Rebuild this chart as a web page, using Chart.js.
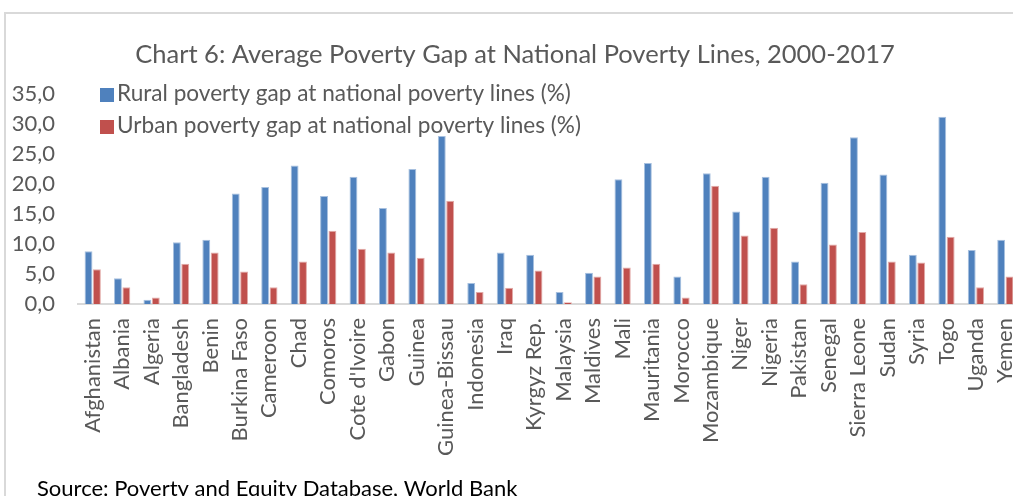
<!DOCTYPE html>
<html>
<head>
<meta charset="utf-8">
<script src="https://cdn.jsdelivr.net/npm/chart.js@4.4.1/dist/chart.umd.min.js"></script>
<style>
  html, body { margin: 0; padding: 0; background: #fff; overflow: hidden; }
  #wrap { position: relative; width: 1046px; height: 496px; }
</style>
</head>
<body>
<div id="wrap"><canvas id="chart" width="1046" height="496"></canvas></div>
<script>
// Countries on the category axis
const countries = ['Afghanistan', 'Albania', 'Algeria', 'Bangladesh', 'Benin', 'Burkina Faso',
  'Cameroon', 'Chad', 'Comoros', "Cote d'Ivoire", 'Gabon', 'Guinea', 'Guinea-Bissau', 'Indonesia',
  'Iraq', 'Kyrgyz Rep.', 'Malaysia', 'Maldives', 'Mali', 'Mauritania', 'Morocco', 'Mozambique',
  'Niger', 'Nigeria', 'Pakistan', 'Senegal', 'Sierra Leone', 'Sudan', 'Syria', 'Togo', 'Uganda', 'Yemen'];

// Average poverty gap (%), 2000-2017
const rural = [8.8, 4.3, 0.7, 10.3, 10.7, 18.4, 19.5, 23.1, 18.0, 21.2, 16.0, 22.5, 28.0, 3.5,
  8.6, 8.2, 2.0, 5.2, 20.8, 23.5, 4.6, 21.8, 15.4, 21.2, 7.1, 20.2, 27.8, 21.6, 8.2, 31.2, 9.0, 10.7];
const urban = [5.8, 2.8, 1.1, 6.7, 8.6, 5.4, 2.8, 7.1, 12.2, 9.2, 8.6, 7.7, 17.2, 2.0,
  2.7, 5.6, 0.3, 4.6, 6.1, 6.7, 1.1, 19.7, 11.4, 12.7, 3.3, 9.9, 12.0, 7.1, 6.9, 11.2, 2.8, 4.6];

const seriesNames = ['Rural poverty gap at national poverty lines (%)',
                     'Urban poverty gap at national poverty lines (%)'];
const yTicks = [0, 5, 10, 15, 20, 25, 30, 35];
const chartTitle = 'Chart 6: Average Poverty Gap at National Poverty Lines, 2000-2017';
const sourceNote = 'Source: Poverty and Equity Database, World Bank';

const FONT = 'Lato';
const TEXT = '#595959';
const BLUE = '#4F81BD';
const RED = '#C0504D';

// Outer frame, legend inside the plot and the source line
const decorations = {
  id: 'decorations',
  beforeDraw(chart) {
    const ctx = chart.ctx;
    ctx.save();
    ctx.strokeStyle = '#d9d9d9';
    ctx.lineWidth = 2;
    ctx.beginPath();
    ctx.moveTo(5, chart.height + 5);
    ctx.lineTo(5, 13);
    ctx.lineTo(chart.width + 5, 13);
    ctx.stroke();
    ctx.restore();
  },
  afterDraw(chart) {
    const ctx = chart.ctx;
    ctx.save();
    ctx.font = `22.6px ${FONT}`;
    ctx.textBaseline = 'middle';
    chart.data.datasets.forEach((ds, i) => {
      const cy = 95 + i * 32;
      ctx.fillStyle = ds.backgroundColor;
      ctx.fillRect(100, cy - 7, 14, 14);
      ctx.fillStyle = TEXT;
      ctx.fillText(ds.label, 117, cy - 1);
    });
    ctx.fillStyle = '#000';
    ctx.textBaseline = 'alphabetic';
    ctx.font = `22px ${FONT}`;
    ctx.fillText(sourceNote, 37, 496);
    ctx.restore();
  }
};

new Chart(document.getElementById('chart'), {
  type: 'bar',
  data: {
    labels: countries,
    datasets: [
      { label: seriesNames[0], data: rural, backgroundColor: BLUE, borderColor: '#a7c0df', borderWidth: { left: 1, right: 1, top: 1 } },
      { label: seriesNames[1], data: urban, backgroundColor: RED, borderColor: '#e2aaa8', borderWidth: { left: 1, right: 1, top: 1 } }
    ]
  },
  options: {
    responsive: false,
    animation: false,
    layout: { padding: { left: 0, right: 16, top: 0, bottom: 0 } },
    datasets: { bar: { categoryPercentage: 0.57, barPercentage: 0.94 } },
    plugins: {
      legend: { display: false },
      tooltip: { enabled: false },
      title: {
        display: true,
        text: chartTitle,
        color: TEXT,
        font: { family: FONT, size: 25.5, weight: 'normal' },
        padding: { top: 39, bottom: 24.4 }
      }
    },
    scales: {
      x: {
        grid: { display: false, drawTicks: false },
        border: { display: true, color: '#d9d9d9', width: 2 },
        ticks: {
          color: TEXT,
          font: { family: FONT, size: 22 },
          minRotation: 90,
          maxRotation: 90,
          autoSkip: false,
          padding: 14
        },
        afterFit(scale) { scale.height = 192; }
      },
      y: {
        min: 0,
        max: 35,
        afterBuildTicks(scale) { scale.ticks = yTicks.map(v => ({ value: v })); },
        grid: { display: false, drawTicks: false },
        border: { display: false },
        ticks: {
          color: TEXT,
          font: { family: FONT, size: 22 },
          padding: 23,
          callback: v => v.toFixed(1).replace('.', ',')
        },
        afterFit(scale) { scale.width = 78; }
      }
    }
  },
  plugins: [decorations]
});
</script>
</body>
</html>
